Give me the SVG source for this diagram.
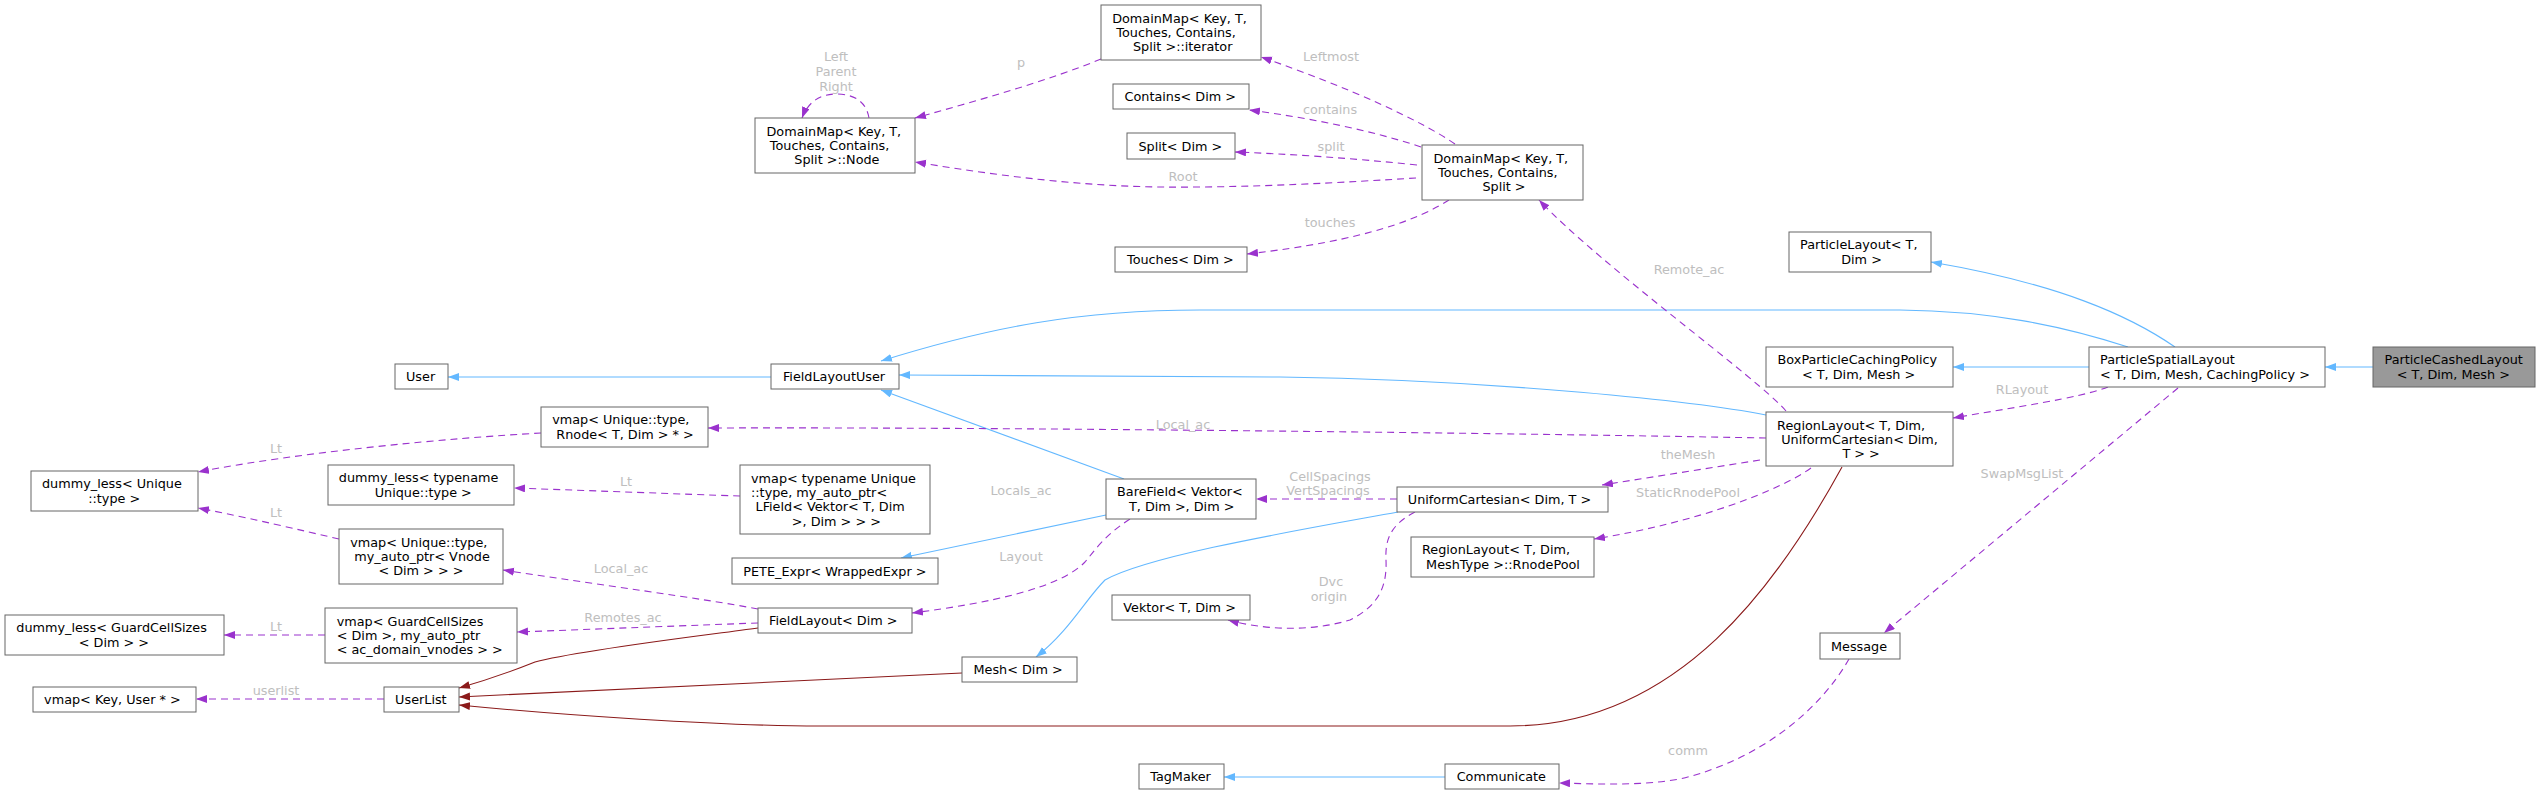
<svg xmlns="http://www.w3.org/2000/svg" width="2545" height="795" viewBox="0 0 2545 795">
<style>
.n rect{fill:#fff;stroke:#666;stroke-width:1}
.n text,.l{font-family:"DejaVu Sans","Liberation Sans",sans-serif;font-size:12.8px}
.n text{fill:#000}
.l{fill:#bebebe;text-anchor:middle}
.b{fill:none;stroke:#63b8ff;stroke-width:1.1;marker-end:url(#ab)}
.u{fill:none;stroke:#9a32cd;stroke-width:1.1;stroke-dasharray:7,5;marker-end:url(#au)}
.r{fill:none;stroke:#8b1a1a;stroke-width:1.1;marker-end:url(#ar)}
</style>
<defs>
<marker id="ab" markerUnits="userSpaceOnUse" markerWidth="12" markerHeight="9" refX="11" refY="4" orient="auto"><path d="M0,0 L11,4 L0,8 z" fill="#63b8ff"/></marker>
<marker id="au" markerUnits="userSpaceOnUse" markerWidth="12" markerHeight="9" refX="11" refY="4" orient="auto"><path d="M0,0 L11,4 L0,8 z" fill="#9a32cd"/></marker>
<marker id="ar" markerUnits="userSpaceOnUse" markerWidth="12" markerHeight="9" refX="11" refY="4" orient="auto"><path d="M0,0 L11,4 L0,8 z" fill="#8b1a1a"/></marker>
</defs>
<rect width="2545" height="795" fill="#fff"/>
<g id="edges">
<path class="b" d="M2373,367 L2325,367"/>
<path class="b" d="M2175,347 C2130,316 2060,284 1931,262"/>
<path class="b" d="M2128,347 C2060,325 1990,311 1900,310 L1200,310 C1080,310 990,327 881,361"/>
<path class="b" d="M2089,367 L1953,367"/>
<path class="b" d="M1766,415 C1700,402 1500,380 1280,377 L899,375"/>
<path class="b" d="M771,377 L448,377"/>
<path class="b" d="M1124,479 L881,390"/>
<path class="b" d="M1106,515 L901,558"/>
<path class="b" d="M1398,512 C1300,530 1150,555 1105,580 C1085,600 1070,630 1036,657"/>
<path class="b" d="M1445,777 L1224,777"/>
<path class="u" d="M869,118 C866,100 852,94 836,94 C820,94 808,102 802,118"/>
<path class="u" d="M1101,59 C1050,80 980,100 915,118"/>
<path class="u" d="M1455,144 C1420,120 1350,88 1261,57"/>
<path class="u" d="M1421,147 C1370,130 1310,118 1249,110"/>
<path class="u" d="M1417,165 C1350,158 1290,154 1235,152"/>
<path class="u" d="M1416,178 C1350,182 1250,188 1160,187 C1080,186 1000,176 915,162"/>
<path class="u" d="M1449,200 C1420,218 1370,240 1247,254"/>
<path class="u" d="M1786,411 C1760,380 1600,265 1539,200"/>
<path class="u" d="M1766,438 C1500,433 1000,427 708,428"/>
<path class="u" d="M1760,460 L1602,485"/>
<path class="u" d="M1811,468 C1780,490 1700,522 1594,539"/>
<path class="u" d="M2108,387 C2080,398 2010,408 1953,418"/>
<path class="u" d="M2178,388 L1884,633"/>
<path class="u" d="M1849,659 C1820,710 1760,760 1680,779 C1640,786 1600,784 1559,783"/>
<path class="u" d="M1397,499 L1256,499"/>
<path class="u" d="M1415,512 C1390,525 1385,540 1386,560 C1387,585 1380,605 1350,620 C1310,632 1265,630 1228,620"/>
<path class="u" d="M1130,519 C1105,535 1095,550 1085,562 C1060,588 990,603 912,613"/>
<path class="u" d="M740,496 C680,494 600,491 514,488"/>
<path class="u" d="M541,433 C450,438 300,452 198,472"/>
<path class="u" d="M339,539 C300,530 250,518 198,508"/>
<path class="u" d="M758,609 C700,598 600,585 503,570"/>
<path class="u" d="M758,623 C700,625 600,629 517,632"/>
<path class="u" d="M325,635 L224,635"/>
<path class="u" d="M384,699 L196,699"/>
<path class="r" d="M758,628 C700,636 580,650 535,662 C510,672 480,682 459,688"/>
<path class="r" d="M962,673 L459,697"/>
<path class="r" d="M1842,467 C1780,580 1680,726 1510,726 L820,726 C720,726 560,715 459,705"/>
<text class="l" x="836" y="61">Left</text>
<text class="l" x="836" y="76">Parent</text>
<text class="l" x="836" y="91">Right</text>
<text class="l" x="1021" y="67">p</text>
<text class="l" x="1331" y="61">Leftmost</text>
<text class="l" x="1330" y="114">contains</text>
<text class="l" x="1331" y="151">split</text>
<text class="l" x="1183" y="181">Root</text>
<text class="l" x="1330" y="227">touches</text>
<text class="l" x="1689" y="274">Remote_ac</text>
<text class="l" x="2022" y="394">RLayout</text>
<text class="l" x="2022" y="478">SwapMsgList</text>
<text class="l" x="1688" y="459">theMesh</text>
<text class="l" x="1688" y="497">StaticRnodePool</text>
<text class="l" x="1183" y="429">Local_ac</text>
<text class="l" x="621" y="573">Local_ac</text>
<text class="l" x="623" y="622">Remotes_ac</text>
<text class="l" x="1021" y="495">Locals_ac</text>
<text class="l" x="1021" y="561">Layout</text>
<text class="l" x="1330" y="481">CellSpacings</text>
<text class="l" x="1328" y="495">VertSpacings</text>
<text class="l" x="1331" y="586">Dvc</text>
<text class="l" x="1329" y="601">origin</text>
<text class="l" x="1688" y="755">comm</text>
<text class="l" x="276" y="453">Lt</text>
<text class="l" x="626" y="486">Lt</text>
<text class="l" x="276" y="517">Lt</text>
<text class="l" x="276" y="631">Lt</text>
<text class="l" x="276" y="695">userlist</text>
</g>
<g id="ParticleCashedLayout" class="n"><rect x="2373" y="347" width="162" height="40" style="fill:#999"/><text x="2384.5" y="364.4">ParticleCashedLayout</text><text x="2396.7" y="378.7">&lt; T, Dim, Mesh &gt;</text></g>
<g id="ParticleSpatialLayout" class="n"><rect x="2089" y="347" width="236" height="40"/><text x="2100" y="364.4">ParticleSpatialLayout</text><text x="2100" y="378.7">&lt; T, Dim, Mesh, CachingPolicy &gt;</text></g>
<g id="ParticleLayout" class="n"><rect x="1789" y="232" width="142" height="40"/><text x="1800" y="249.4">ParticleLayout&lt; T,</text><text x="1841.2" y="263.7">Dim &gt;</text></g>
<g id="BoxParticleCachingPolicy" class="n"><rect x="1766" y="347" width="187" height="40"/><text x="1777.6" y="364.4">BoxParticleCachingPolicy</text><text x="1802" y="378.7">&lt; T, Dim, Mesh &gt;</text></g>
<g id="RegionLayout" class="n"><rect x="1766" y="412" width="187" height="54"/><text x="1777.1" y="429.5">RegionLayout&lt; T, Dim,</text><text x="1781.2" y="443.8">UniformCartesian&lt; Dim,</text><text x="1842.4" y="458.1">T &gt; &gt;</text></g>
<g id="DomainMap" class="n"><rect x="1422" y="145" width="161" height="55"/><text x="1433.5" y="162.7">DomainMap&lt; Key, T,</text><text x="1438" y="177">Touches, Contains,</text><text x="1482.4" y="191.3">Split &gt;</text></g>
<g id="DomainMapIterator" class="n"><rect x="1101" y="5" width="160" height="55"/><text x="1112.2" y="22.7">DomainMap&lt; Key, T,</text><text x="1116.3" y="37">Touches, Contains,</text><text x="1133" y="51.3">Split &gt;::iterator</text></g>
<g id="Contains" class="n"><rect x="1113" y="84" width="136" height="25"/><text x="1124.5" y="101">Contains&lt; Dim &gt;</text></g>
<g id="Split" class="n"><rect x="1127" y="133" width="108" height="26"/><text x="1138.4" y="150.5">Split&lt; Dim &gt;</text></g>
<g id="Touches" class="n"><rect x="1115" y="247" width="132" height="25"/><text x="1127" y="264">Touches&lt; Dim &gt;</text></g>
<g id="DomainMapNode" class="n"><rect x="755" y="118" width="160" height="55"/><text x="766.5" y="135.7">DomainMap&lt; Key, T,</text><text x="769.8" y="150">Touches, Contains,</text><text x="794.3" y="164.3">Split &gt;::Node</text></g>
<g id="FieldLayoutUser" class="n"><rect x="771" y="364" width="128" height="25"/><text x="782.9" y="381">FieldLayoutUser</text></g>
<g id="User" class="n"><rect x="395" y="364" width="53" height="25"/><text x="406" y="381">User</text></g>
<g id="vmapRnode" class="n"><rect x="541" y="407" width="167" height="40"/><text x="552.2" y="424.4">vmap&lt; Unique::type,</text><text x="556.3" y="438.7">Rnode&lt; T, Dim &gt; * &gt;</text></g>
<g id="dummyLessUnique" class="n"><rect x="31" y="471" width="167" height="40"/><text x="42" y="488.4">dummy_less&lt; Unique</text><text x="88.2" y="502.7">::type &gt;</text></g>
<g id="dummyLessTypename" class="n"><rect x="328" y="465" width="186" height="40"/><text x="338.8" y="482.4">dummy_less&lt; typename</text><text x="374.7" y="496.7">Unique::type &gt;</text></g>
<g id="vmapLField" class="n"><rect x="740" y="465" width="190" height="69"/><text x="751" y="482.5">vmap&lt; typename Unique</text><text x="751" y="496.9">::type, my_auto_ptr&lt;</text><text x="755.5" y="511.2">LField&lt; Vektor&lt; T, Dim</text><text x="791.8" y="525.5">&gt;, Dim &gt; &gt; &gt;</text></g>
<g id="BareField" class="n"><rect x="1106" y="479" width="150" height="40"/><text x="1117.1" y="496.4">BareField&lt; Vektor&lt;</text><text x="1129" y="510.7">T, Dim &gt;, Dim &gt;</text></g>
<g id="vmapVnode" class="n"><rect x="339" y="529" width="164" height="55"/><text x="350.2" y="546.7">vmap&lt; Unique::type,</text><text x="354.3" y="561">my_auto_ptr&lt; Vnode</text><text x="378.4" y="575.3">&lt; Dim &gt; &gt; &gt;</text></g>
<g id="PETE_Expr" class="n"><rect x="732" y="558" width="206" height="26"/><text x="743.3" y="575.5">PETE_Expr&lt; WrappedExpr &gt;</text></g>
<g id="UniformCartesian" class="n"><rect x="1397" y="487" width="211" height="25"/><text x="1407.8" y="504">UniformCartesian&lt; Dim, T &gt;</text></g>
<g id="RnodePool" class="n"><rect x="1411" y="537" width="183" height="40"/><text x="1422" y="554.4">RegionLayout&lt; T, Dim,</text><text x="1426.1" y="568.7">MeshType &gt;::RnodePool</text></g>
<g id="Vektor" class="n"><rect x="1112" y="595" width="138" height="25"/><text x="1123.3" y="612">Vektor&lt; T, Dim &gt;</text></g>
<g id="dummyLessGuard" class="n"><rect x="5" y="615" width="219" height="40"/><text x="16.3" y="632.4">dummy_less&lt; GuardCellSizes</text><text x="78.8" y="646.7">&lt; Dim &gt; &gt;</text></g>
<g id="vmapGuard" class="n"><rect x="325" y="608" width="192" height="55"/><text x="336.7" y="625.7">vmap&lt; GuardCellSizes</text><text x="336.7" y="640">&lt; Dim &gt;, my_auto_ptr</text><text x="336.7" y="654.3">&lt; ac_domain_vnodes &gt; &gt;</text></g>
<g id="FieldLayout" class="n"><rect x="758" y="608" width="154" height="25"/><text x="769" y="625">FieldLayout&lt; Dim &gt;</text></g>
<g id="Mesh" class="n"><rect x="962" y="657" width="115" height="25"/><text x="973.5" y="674">Mesh&lt; Dim &gt;</text></g>
<g id="Message" class="n"><rect x="1820" y="633" width="80" height="26"/><text x="1831" y="650.5">Message</text></g>
<g id="vmapKeyUser" class="n"><rect x="33" y="687" width="163" height="25"/><text x="44.1" y="704">vmap&lt; Key, User * &gt;</text></g>
<g id="UserList" class="n"><rect x="384" y="687" width="75" height="25"/><text x="395.1" y="704">UserList</text></g>
<g id="TagMaker" class="n"><rect x="1139" y="764" width="85" height="25"/><text x="1150.2" y="781">TagMaker</text></g>
<g id="Communicate" class="n"><rect x="1445" y="764" width="114" height="25"/><text x="1456.7" y="781">Communicate</text></g>
</svg>
